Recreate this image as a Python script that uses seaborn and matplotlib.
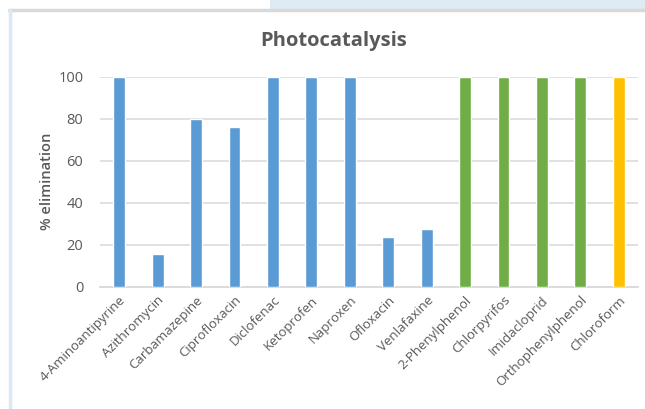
# Photocatalysis elimination chart

import pandas as pd
import matplotlib.pyplot as plt
import seaborn as sns

# Data

compounds = ["4-Aminoantipyrine", "Azithromycin", "Carbamazepine", "Ciprofloxacin",
             "Diclofenac", "Ketoprofen", "Naproxen", "Ofloxacin", "Venlafaxine",
             "2-Phenylphenol", "Chlorpyrifos", "Imidacloprid", "Orthophenylphenol",
             "Chloroform"]
elimination = [100, 15.5, 80, 76, 100, 100, 100, 23.7, 27.3, 100, 100, 100, 100, 100]
group = ["pharma"] * 9 + ["pesticide"] * 4 + ["solvent"]
group_colors = {"pharma": "#5B9BD5", "pesticide": "#70AD47", "solvent": "#FFC000"}

df = pd.DataFrame({"Compound": compounds, "Elimination": elimination, "Group": group})

# Plot

sns.set_style("white")
plt.rcParams['font.family'] = ['Open Sans', 'DejaVu Sans']
grey = "#595959"

fig = plt.figure(figsize=(6.45, 4.09), dpi=100)

# frame decoration from the screenshot
fig.patches.append(plt.Rectangle((270/645, 1 - 9/409), 1, 9/409, transform=fig.transFigure,
                                 facecolor="#deebf5", edgecolor="none", zorder=0))
fig.add_artist(plt.Line2D([9/645, 1], [1 - 10/409] * 2, color="#d9d9d9", lw=2.5))
fig.add_artist(plt.Line2D([10/645] * 2, [0, 1 - 10/409], color="#dbe7f2", lw=2.5))

ax = fig.add_axes([100/645, 1 - 286.7/409, 538/645, 210.2/409])
sns.barplot(data=df, x="Compound", y="Elimination", hue="Group", palette=group_colors,
            dodge=False, legend=False, width=0.31, saturation=1, ax=ax, zorder=3)

ax.set_ylim(0, 100)
ax.set_xlim(-0.5, len(compounds) - 0.5)
ax.set_yticks(range(0, 101, 20))
ax.yaxis.grid(True, color="#d9d9d9", lw=1.1, zorder=0)
ax.set_axisbelow(True)
for s in ["top", "right", "left"]:
    ax.spines[s].set_visible(False)
ax.spines["bottom"].set_color("#d9d9d9")
ax.spines["bottom"].set_linewidth(1.3)
ax.tick_params(length=0, colors=grey, labelsize=9.5)
ax.tick_params(axis="y", labelsize=10.5, pad=12)
ax.tick_params(axis="x", pad=5)
plt.setp(ax.get_xticklabels(), rotation=45, ha="right", rotation_mode="anchor")

ax.set_xlabel("")
ax.set_ylabel("% elimination", color=grey, fontsize=10.5, fontweight="semibold", labelpad=3)
fig.text(334/645, 1 - 41/409, "Photocatalysis", ha="center", va="center",
         color=grey, fontsize=14.5, fontweight="bold")

plt.savefig("out.png", dpi=100)
